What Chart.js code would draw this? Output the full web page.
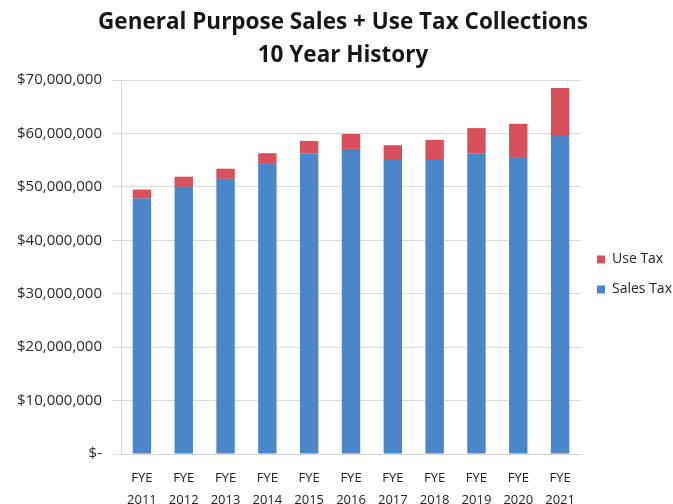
<!DOCTYPE html>
<html>
<head>
<meta charset="utf-8">
<script src="https://cdn.jsdelivr.net/npm/chart.js@4.4.1/dist/chart.umd.min.js"></script>
<style>
  html, body { margin: 0; padding: 0; background: #fff; }
  #wrap { width: 673px; height: 504px; }
</style>
</head>
<body>
<div id="wrap"><canvas id="tax-chart"></canvas></div>
<script>
// fiscal years
const years = ['2011', '2012', '2013', '2014', '2015', '2016', '2017', '2018', '2019', '2020', '2021']
// collections in dollars
const salesTax = [47800000, 50000000, 51500000, 54300000, 56200000, 57100000, 55200000, 55200000, 56200000, 55600000, 59700000]
const useTax = [1700000, 1900000, 1900000, 2000000, 2400000, 2800000, 2600000, 3600000, 4800000, 6200000, 8800000]
const yTicks = [0, 10000000, 20000000, 30000000, 40000000, 50000000, 60000000, 70000000]

const BLUE = '#4a87c9'
const RED = '#d7505b'
const FONT = "'Open Sans', 'Liberation Sans', sans-serif"

function money(v) {
    if (v === 0) return '$-'
    return '$' + v.toLocaleString('en-US')
}

new Chart(document.querySelector('#tax-chart').getContext('2d'), {
    type: 'bar',
    data: {
        labels: years.map(y => ['FYE', y]),
        datasets: [
            {
                label: 'Sales Tax',
                data: salesTax,
                backgroundColor: BLUE,
                barPercentage: 0.44,
                categoryPercentage: 1
            },
            {
                label: 'Use Tax',
                data: useTax,
                backgroundColor: RED,
                barPercentage: 0.44,
                categoryPercentage: 1
            }
        ]
    },
    options: {
        responsive: true,
        maintainAspectRatio: false,
        animation: false,
        layout: { padding: { left: 13, right: 0, top: 0, bottom: 0 } },
        plugins: {
            title: {
                display: true,
                text: ['General Purpose Sales + Use Tax Collections', '10 Year History'],
                color: '#161616',
                font: { family: FONT, size: 22.5, weight: 'bold', lineHeight: 1.467 },
                padding: { top: 6, bottom: 8 }
            },
            legend: {
                position: 'right',
                reverse: true,
                maxWidth: 92,
                // blank title only pushes the two items down a little
                title: { display: true, text: ' ', font: { size: 12, lineHeight: 1.25 }, padding: { top: 30, bottom: 0 } },
                labels: {
                    boxWidth: 8,
                    boxHeight: 8,
                    padding: 16,
                    color: '#222',
                    font: { family: FONT, size: 14, lineHeight: 0.857 }
                }
            },
            tooltip: { enabled: false }
        },
        scales: {
            x: {
                stacked: true,
                grid: { display: false, drawTicks: false },
                border: { color: '#d4d4d4' },
                afterFit: axis => { axis.height = 50 },
                ticks: {
                    color: '#222',
                    font: { family: FONT, size: 13, lineHeight: 1.65 },
                    maxRotation: 0,
                    autoSkip: false,
                    padding: 14
                }
            },
            y: {
                stacked: true,
                min: 0,
                max: 70000000,
                afterBuildTicks: axis => { axis.ticks = yTicks.map(v => ({ value: v })) },
                afterFit: axis => { axis.width = 108 },
                grid: { color: '#dadada', tickLength: 8 },
                border: { color: '#d4d4d4' },
                ticks: {
                    color: '#2a2a2a',
                    font: { family: FONT, size: 15 },
                    padding: 11,
                    callback: v => money(v)
                }
            }
        }
    }
})
</script>
</body>
</html>
